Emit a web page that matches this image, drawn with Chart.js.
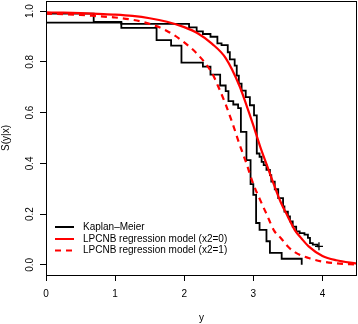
<!DOCTYPE html>
<html>
<head>
<meta charset="utf-8">
<script src="https://cdn.jsdelivr.net/npm/chart.js@4"></script>
<style>
  html, body { margin: 0; padding: 0; background: #fff; }
  canvas { display: block; }
</style>
</head>
<body>
<canvas id="km-chart" width="358" height="324"></canvas>
<script>
// tick positions
const xTicks = [0, 1, 2, 3, 4];
const yTicks = [0, 0.2, 0.4, 0.6, 0.8, 1.0];

// Kaplan-Meier, x2=0 (upper steps), last point is censored
const kmTime0 = [0, 0.69, 1.09, 2.07, 2.18, 2.27, 2.38, 2.48, 2.54, 2.63, 2.66, 2.73, 2.76, 2.79, 2.83, 2.89, 2.95, 3.01, 3.05, 3.09, 3.12, 3.15, 3.19, 3.24, 3.26, 3.31, 3.36, 3.43, 3.45, 3.50, 3.53, 3.57, 3.62, 3.67, 3.74, 3.79, 3.82, 3.86, 3.93, 3.95];
const kmSurv0 = [0.99, 0.958, 0.95, 0.936, 0.92, 0.91, 0.899, 0.873, 0.866, 0.838, 0.81, 0.785, 0.746, 0.714, 0.687, 0.661, 0.629, 0.589, 0.439, 0.426, 0.406, 0.393, 0.374, 0.354, 0.328, 0.298, 0.263, 0.23, 0.21, 0.191, 0.171, 0.151, 0.132, 0.125, 0.119, 0.106, 0.086, 0.08, 0.073, 0.073];

// Kaplan-Meier, x2=1 (lower steps)
const kmTime1 = [0, 1.09, 1.60, 1.81, 1.96, 2.27, 2.38, 2.52, 2.60, 2.64, 2.71, 2.78, 2.82, 2.90, 2.96, 3.00, 3.04, 3.09, 3.19, 3.24, 3.41, 3.70];
const kmSurv1 = [0.955, 0.934, 0.886, 0.864, 0.797, 0.781, 0.75, 0.707, 0.685, 0.645, 0.632, 0.618, 0.524, 0.413, 0.318, 0.276, 0.165, 0.138, 0.093, 0.047, 0.024, 0];

// censored mark
const censorTime = [3.95];
const censorSurv = [0.073];

// LPCNB model, x2=0 (solid)
const modelTime0 = [0, 0.25, 0.5, 0.75, 1, 1.25, 1.5, 1.75, 2, 2.2, 2.4, 2.6, 2.8, 2.9, 3.0, 3.1, 3.2, 3.3, 3.4, 3.5, 3.6, 3.7, 3.8, 4.0, 4.2, 4.5];
const modelSurv0 = [0.995, 0.994, 0.992, 0.989, 0.986, 0.981, 0.972, 0.958, 0.937, 0.912, 0.872, 0.815, 0.705, 0.63, 0.55, 0.465, 0.39, 0.315, 0.245, 0.19, 0.137, 0.103, 0.073, 0.035, 0.018, 0.005];

// LPCNB model, x2=1 (dashed)
const modelTime1 = [0, 0.25, 0.5, 0.75, 1, 1.25, 1.5, 1.75, 2, 2.2, 2.4, 2.5, 2.6, 2.7, 2.8, 2.9, 3.0, 3.1, 3.2, 3.3, 3.4, 3.5, 3.6, 3.8, 4.0, 4.2, 4.5];
const modelSurv1 = [0.99, 0.988, 0.985, 0.98, 0.975, 0.966, 0.95, 0.922, 0.877, 0.828, 0.757, 0.698, 0.632, 0.557, 0.475, 0.4, 0.318, 0.255, 0.195, 0.135, 0.105, 0.072, 0.05, 0.027, 0.013, 0.006, 0.001];

const legendLabels = ['Kaplan–Meier', 'LPCNB regression model (x2=0)', 'LPCNB regression model (x2=1)'];

function toPoints(xs, ys) {
    return xs.map((x, i) => ({ x: x, y: ys[i] }));
}

// fixed axis sizes, no extra padding for edge labels
function fixSize(w, h) {
    return s => {
        if (w) s.width = w;
        if (h) s.height = h;
        s.paddingTop = s.paddingBottom = s.paddingLeft = s.paddingRight = 0;
    };
}

// box around the plot region
const frame = {
    id: 'frame',
    afterDraw(chart) {
        const { ctx, chartArea: a } = chart;
        ctx.save();
        ctx.strokeStyle = '#000';
        ctx.lineWidth = 1;
        ctx.strokeRect(a.left + 0.5, a.top + 0.5, a.right - a.left - 1, a.bottom - a.top);
        ctx.restore();
    }
};

// legend in the lower left corner, like R's legend()
const cornerLegend = {
    id: 'cornerLegend',
    afterDraw(chart) {
        const ctx = chart.ctx;
        const styles = [
            { color: '#000', dash: [] },
            { color: '#ff0000', dash: [] },
            { color: '#ff0000', dash: [6, 5] }
        ];
        const rows = [227, 239, 250.5];
        ctx.save();
        ctx.font = "10px 'Liberation Sans', Arial, sans-serif";
        ctx.textBaseline = 'middle';
        ctx.fillStyle = '#000';
        legendLabels.forEach((label, i) => {
            ctx.beginPath();
            ctx.strokeStyle = styles[i].color;
            ctx.lineWidth = 2;
            ctx.setLineDash(styles[i].dash);
            ctx.moveTo(55, rows[i]);
            ctx.lineTo(74, rows[i]);
            ctx.stroke();
            ctx.setLineDash([]);
            ctx.fillText(label, 83, rows[i]);
        });
        ctx.restore();
    }
};

Chart.defaults.font.family = "'Liberation Sans', Arial, sans-serif";
Chart.defaults.font.size = 10;
Chart.defaults.color = '#000';

new Chart(document.getElementById('km-chart'), {
    type: 'line',
    data: {
        datasets: [{
            data: toPoints(modelTime0, modelSurv0),
            borderColor: '#ff0000',
            borderWidth: 2.2,
            pointRadius: 0,
            cubicInterpolationMode: 'monotone'
        }, {
            data: toPoints(modelTime1, modelSurv1),
            borderColor: '#ff0000',
            borderWidth: 2.2,
            borderDash: [6, 5],
            pointRadius: 0,
            cubicInterpolationMode: 'monotone'
        }, {
            data: toPoints(kmTime0, kmSurv0),
            borderColor: '#000',
            borderWidth: 1.8,
            pointRadius: 0,
            stepped: true
        }, {
            data: toPoints(kmTime1, kmSurv1),
            borderColor: '#000',
            borderWidth: 1.8,
            pointRadius: 0,
            stepped: true
        }, {
            data: toPoints(censorTime, censorSurv),
            showLine: false,
            pointStyle: 'cross',
            pointRadius: 4,
            borderColor: '#000',
            borderWidth: 1.3
        }]
    },
    options: {
        responsive: false,
        animation: false,
        events: [],
        layout: { autoPadding: false, padding: { top: 1, right: 1, left: 0, bottom: 0 } },
        plugins: {
            legend: { display: false },
            tooltip: { enabled: false }
        },
        scales: {
            x: {
                type: 'linear',
                min: 0,
                max: 4.5,
                afterBuildTicks: s => { s.ticks = xTicks.map(v => ({ value: v })); },
                afterFit: fixSize(0, 49),
                grid: { drawOnChartArea: false, tickLength: 6, color: '#000' },
                border: { display: false },
                ticks: { padding: 7, maxRotation: 0, autoSkip: false, callback: v => String(v) },
                title: { display: true, text: 'y', padding: { top: 0, bottom: 0 } }
            },
            y: {
                type: 'linear',
                min: -0.04,
                max: 1.04,
                afterBuildTicks: s => { s.ticks = yTicks.map(v => ({ value: v })); },
                afterFit: fixSize(46, 0),
                grid: { drawOnChartArea: false, tickLength: 6, color: '#000' },
                border: { display: false },
                ticks: { padding: 2.5, minRotation: 90, maxRotation: 90, crossAlign: 'center', autoSkip: false, callback: v => v.toFixed(1) },
                title: { display: true, text: 'S(y|x)', padding: { top: 0, bottom: 0 } }
            }
        }
    },
    plugins: [frame, cornerLegend]
});
</script>
</body>
</html>
